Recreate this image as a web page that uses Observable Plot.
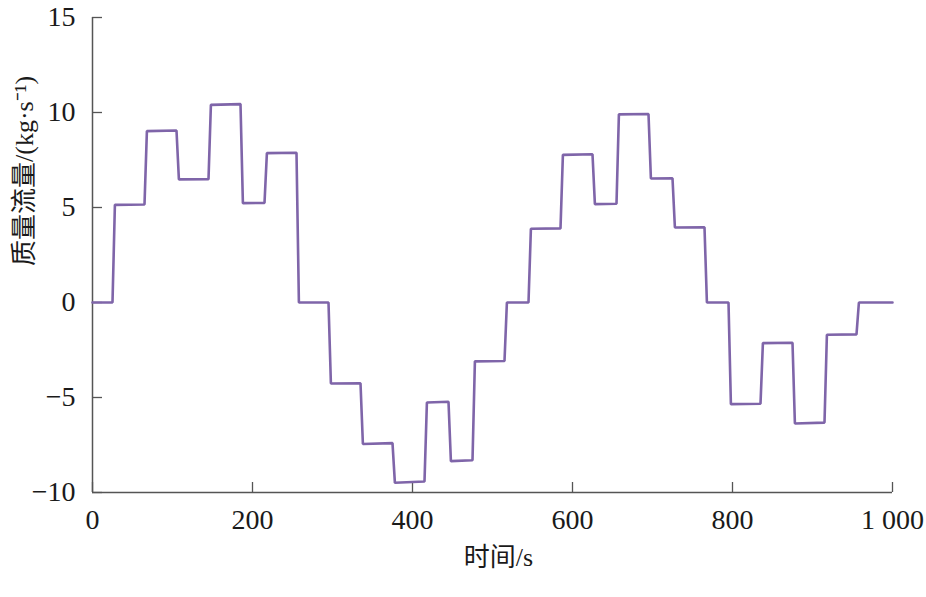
<!DOCTYPE html>
<html>
<head>
<meta charset="utf-8">
<script src="https://cdn.jsdelivr.net/npm/d3@7"></script>
<script src="https://cdn.jsdelivr.net/npm/@observablehq/plot@0.6"></script>
<style>
  body { margin: 0; background: #fff; font-family: Liberation Serif, serif; }
  #chart { width: 926px; height: 597px; }
</style>
</head>
<body>
<div id="chart"></div>
<script>
// times (s) at which the mass flow switches to the next level
const switchTimes = [25, 65, 105, 145, 185, 215, 255, 295, 335, 375, 415, 445, 475,
  515, 545, 585, 625, 655, 695, 725, 765, 795, 835, 875, 915, 955];
// level at the start and at the end of each plateau (kg/s)
const startValues = [0, 5.14, 9.02, 6.48, 10.40, 5.23, 7.86, 0, -4.26, -7.45, -9.49, -5.26, -8.35,
  -3.10, 0, 3.88, 7.77, 5.18, 9.90, 6.53, 3.95, 0, -5.35, -2.14, -6.37, -1.70, 0];
const endValues = [0, 5.16, 9.05, 6.49, 10.44, 5.24, 7.88, 0, -4.25, -7.40, -9.42, -5.22, -8.30,
  -3.08, 0, 3.90, 7.80, 5.20, 9.92, 6.54, 3.96, 0, -5.33, -2.12, -6.32, -1.68, 0];
const rampSeconds = 3;
const tEnd = 1000;

const xTicks = [0, 200, 400, 600, 800, 1000];
const yTicks = [-10, -5, 0, 5, 10, 15];
const xTitle = "时间/s";
const yTitle = "质量流量/(kg·s⁻¹)";

// plateau end points -> line vertices
const points = [];
startValues.forEach((v, i) => {
  const t0 = i == 0 ? 0 : switchTimes[i - 1] + rampSeconds;
  const t1 = i == startValues.length - 1 ? tEnd : switchTimes[i];
  points.push({t: t0, q: v});
  points.push({t: t1, q: endValues[i]});
});

const W = 926, H = 597;
const mL = 92, mR = 34, mT = 17, mB = 105;
const tickLen = 10;
const axisColor = "#555";
const serif = "Liberation Serif, Noto Sans CJK SC, serif";

let chart = Plot.plot({
  width: W,
  height: H,
  marginLeft: mL,
  marginRight: mR,
  marginTop: mT,
  marginBottom: mB,
  style: "font-family: Liberation Serif, Noto Sans CJK SC, serif; background: white; color: #1a1a1a;",
  x: { domain: [0, tEnd] },
  y: { domain: [-10, 15] },
  marks: [
    Plot.axisX(xTicks, {
      tickSize: 0, tickPadding: 17, fontSize: 28, fontFamily: serif, label: null,
      tickFormat: d => d == 1000 ? "1 000" : String(d)
    }),
    Plot.axisY(yTicks, {
      tickSize: 0, tickPadding: 17, fontSize: 28, fontFamily: serif, label: null,
      tickFormat: d => d < 0 ? "−" + Math.abs(d) : String(d)
    }),
    // inward ticks
    Plot.tickX(xTicks, { x: d => d, insetTop: H - mT - mB - tickLen, stroke: axisColor, strokeWidth: 1.3 }),
    Plot.tickY(yTicks, { y: d => d, insetRight: W - mL - mR - tickLen, stroke: axisColor, strokeWidth: 1.3 }),
    Plot.ruleX([0], { stroke: axisColor, strokeWidth: 1.5 }),
    Plot.ruleY([-10], { stroke: axisColor, strokeWidth: 1.5 }),
    Plot.line(points, {
      x: "t", y: "q",
      stroke: "#7f65a9", strokeWidth: 2.6, strokeLinejoin: "miter"
    }),
    Plot.text([xTitle], {
      text: d => d, frameAnchor: "bottom", dx: 6, dy: 65, fontFamily: serif,
      fontSize: 26, lineAnchor: "middle", fill: "#1a1a1a"
    }),
    Plot.text([yTitle], {
      text: d => d, frameAnchor: "left", rotate: -90, dx: -68, dy: 11, fontFamily: serif,
      fontSize: 26, lineAnchor: "middle", fill: "#1a1a1a"
    })
  ]
});

// make sure every label carries the serif face directly
d3.select(chart).selectAll("text").attr("font-family", serif).style("font-family", serif);

d3.select('#chart').append(() => chart);
</script>
</body>
</html>
